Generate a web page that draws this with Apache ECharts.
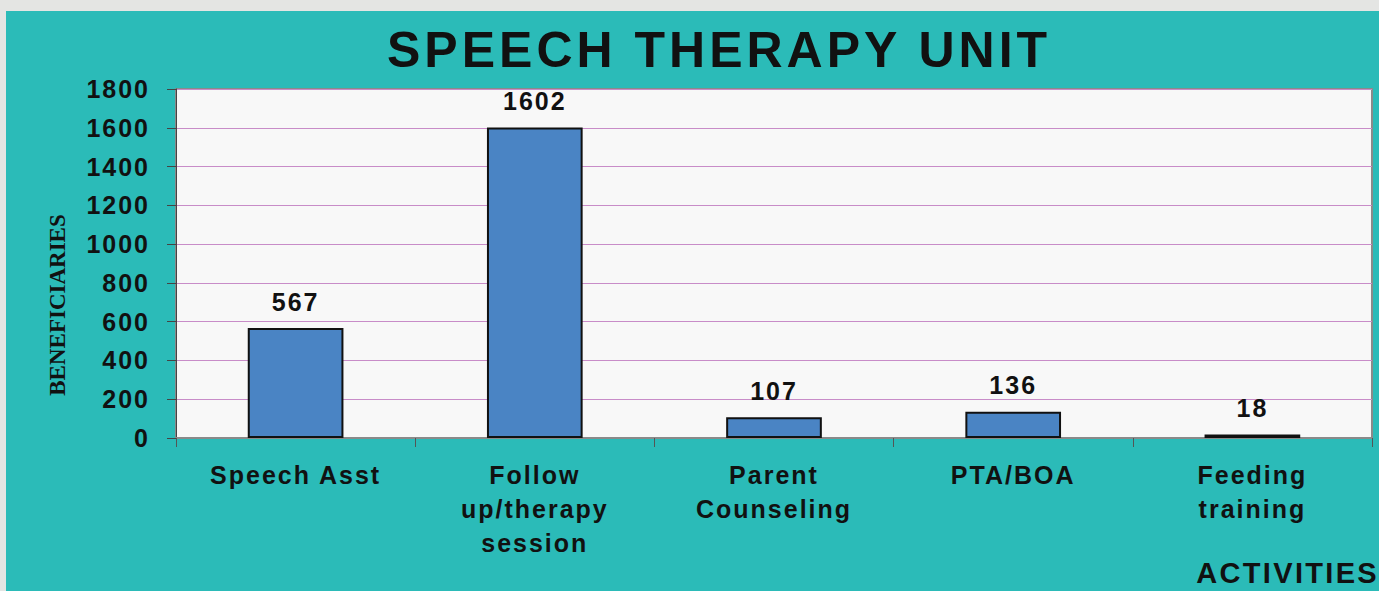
<!DOCTYPE html>
<html>
<head>
<meta charset="utf-8">
<script src="https://cdn.jsdelivr.net/npm/echarts@6/dist/echarts.min.js"></script>
<style>
html, body { margin: 0; padding: 0; background: #E4E5E3; overflow: hidden; }
#main { position: absolute; left: 6px; top: 11px; width: 1373px; height: 580px; background: #2BBBB8; }
#main text { letter-spacing: 0.08em; }
#main text[style*="Serif"] { letter-spacing: 0; }
</style>
</head>
<body>
<div id="main"></div>
<script>
// data
var categories = ['Speech Asst', 'Follow\nup/therapy\nsession', 'Parent\nCounseling', 'PTA/BOA', 'Feeding\ntraining'];
var beneficiaries = [567, 1602, 107, 136, 18];
var yMin = 0;
var yMax = 1800;
var yStep = 200;

var chart = echarts.init(document.getElementById('main'), null, { renderer: 'svg' });

var labelFont = {
    fontFamily: 'Liberation Sans',
    fontWeight: 'bold',
    fontSize: 25,
    color: '#111'
};

var option = {
    backgroundColor: '#2BBBB8',
    title: {
        text: 'SPEECH THERAPY UNIT',
        left: 376,
        top: 9,
        textStyle: { fontFamily: 'Liberation Sans', fontWeight: 'bold', fontSize: 50, color: '#111' }
    },
    grid: {
        left: 170, top: 78, right: 7, bottom: 153,
        show: true,
        backgroundColor: '#F8F8F8',
        borderColor: '#8A8A8A',
        borderWidth: 2
    },
    xAxis: {
        type: 'category',
        data: categories,
        axisLine: { lineStyle: { color: '#8A8A8A', width: 2 } },
        axisTick: { show: true, length: 9, lineStyle: { color: '#555' } },
        axisLabel: Object.assign({ margin: 20, lineHeight: 34, interval: 0 }, labelFont)
    },
    yAxis: {
        type: 'value',
        min: yMin,
        max: yMax,
        interval: yStep,
        axisLine: { show: true, lineStyle: { color: '#444' } },
        axisTick: { show: true, length: 9, lineStyle: { color: '#444' } },
        splitLine: { lineStyle: { color: '#C88CC8' } },
        axisLabel: Object.assign({ margin: 26, formatter: function (v) { return String(v); } }, labelFont)
    },
    series: [{
        type: 'bar',
        data: beneficiaries,
        barWidth: '40%',
        itemStyle: { color: '#4A84C4', borderColor: '#111', borderWidth: 2 },
        label: Object.assign({ show: true, position: 'top', distance: 14 }, labelFont)
    }],
    graphic: [
        {
            type: 'text',
            x: 51,
            y: 294,
            rotation: Math.PI / 2,
            style: {
                text: 'BENEFICIARIES',
                fill: '#111',
                font: 'bold 23px "Liberation Serif", serif',
                align: 'center', verticalAlign: 'middle',
                textAlign: 'center', textVerticalAlign: 'middle'
            }
        },
        {
            type: 'text',
            x: 1373,
            y: 562,
            style: {
                text: 'ACTIVITIES',
                fill: '#111',
                font: 'bold 29px "Liberation Sans", sans-serif',
                align: 'right', verticalAlign: 'middle',
                textAlign: 'right', textVerticalAlign: 'middle'
            }
        }
    ]
};

chart.setOption(option);
</script>
</body>
</html>
